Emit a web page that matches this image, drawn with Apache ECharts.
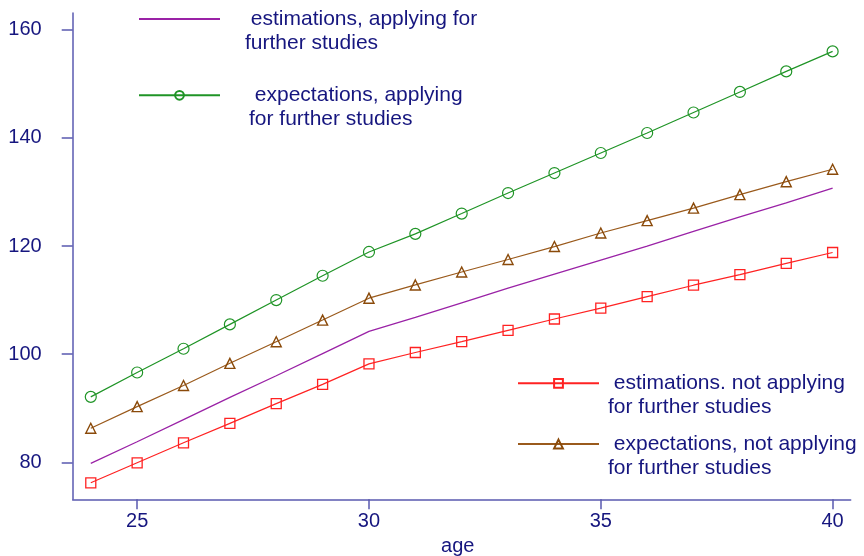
<!DOCTYPE html>
<html><head><meta charset="utf-8">
<script src="https://cdn.jsdelivr.net/npm/echarts@6/dist/echarts.min.js"></script>
<style>html,body{margin:0;padding:0;background:#fff}#c{width:864px;height:556px}</style>
</head><body><div id="c"></div>
<script>
const ages = [24, 25, 26, 27, 28, 29, 30, 31, 32, 33, 34, 35, 36, 37, 38, 39, 40];
const estApplying = [79.8, 83.8, 87.9, 92.0, 96.0, 100.1, 104.2, 106.8, 109.5, 112.2, 114.8, 117.4, 120.0, 122.7, 125.4, 128.0, 130.7];
const expApplying = [92.1, 96.6, 101.0, 105.5, 110.0, 114.5, 118.9, 122.25, 126.0, 129.8, 133.5, 137.2, 140.9, 144.7, 148.5, 152.3, 156.0];
const estNotApplying = [76.2, 79.9, 83.6, 87.2, 90.85, 94.4, 98.2, 100.3, 102.3, 104.4, 106.5, 108.5, 110.65, 112.75, 114.7, 116.8, 118.8];
const expNotApplying = [86.3, 90.3, 94.2, 98.3, 102.3, 106.3, 110.35, 112.8, 115.2, 117.5, 119.9, 122.4, 124.7, 127.0, 129.5, 131.9, 134.2];
const xTicks = [25, 30, 35, 40];
const yTicks = [80, 100, 120, 140, 160];
const seriesNames = [
  'estimations, applying for\nfurther studies',
  'expectations, applying\nfor further studies',
  'estimations. not applying\nfor further studies',
  'expectations, not applying\nfor further studies'
];
const xName = 'age';

const FONT = '"Liberation Sans", Arial, sans-serif';
const TXT = '#16167f';
const AX = '#5a5ab0';
const LH = 24;

const pairs = arr => ages.map((a, i) => [a, arr[i]]);

function legendAt(item, left, centerY, padLeft) {
  return {
    data: [item], left: left, top: centerY - 1.5 * LH, padding: 0, orient: 'vertical',
    itemWidth: 81, itemHeight: 11, selectedMode: false,
    formatter: n => '\n ' + n,
    textStyle: { color: TXT, fontSize: 21, fontFamily: FONT, lineHeight: LH, padding: [0, 0, 0, padLeft] }
  };
}

const chart = echarts.init(document.getElementById('c'), null, { renderer: 'canvas' });
chart.setOption({
  animation: false,
  backgroundColor: '#fff',
  grid: { left: 72.7, right: 13.3, top: 13, bottom: 56.7, containLabel: false, outerBoundsMode: 'none' },
  legend: [
    legendAt({ name: seriesNames[0], itemStyle: { opacity: 0 } }, 138, 19, 20),
    legendAt({ name: seriesNames[1] }, 138, 95.3, 24),
    legendAt({ name: seriesNames[2] }, 517, 383.3, 4),
    legendAt({ name: seriesNames[3] }, 517, 444, 4)
  ],
  xAxis: {
    type: 'value', min: 23.61, max: 40.39,
    name: xName, nameLocation: 'middle', nameGap: 31,
    nameTextStyle: { color: TXT, fontSize: 20, fontFamily: FONT, padding: [0, 8, 0, 0] },
    axisLine: { show: true, onZero: false, lineStyle: { color: AX, width: 1.5 } },
    axisTick: { show: true, length: 10, customValues: xTicks, lineStyle: { color: AX, width: 1.5 } },
    axisLabel: { customValues: xTicks, margin: 12, color: TXT, fontSize: 20, fontFamily: FONT },
    splitLine: { show: false }
  },
  yAxis: {
    type: 'value', min: 73.15, max: 163.1,
    axisLine: { show: true, onZero: false, lineStyle: { color: AX, width: 1.5 } },
    axisTick: { show: true, length: 11, customValues: yTicks, lineStyle: { color: AX, width: 1.5 } },
    axisLabel: { customValues: yTicks, margin: 31, color: TXT, fontSize: 20, fontFamily: FONT },
    splitLine: { show: false }
  },
  series: [
    {
      name: seriesNames[0], type: 'line', data: pairs(estApplying),
      symbol: 'none', lineStyle: { color: '#9a22a6', width: 1.3 }, itemStyle: { color: '#9a22a6' }
    },
    {
      name: seriesNames[1], type: 'line', data: pairs(expApplying),
      symbol: 'circle', symbolSize: 11, showAllSymbol: true,
      lineStyle: { color: '#1f9426', width: 1.2 },
      itemStyle: { color: 'rgba(0,0,0,0)', borderColor: '#1f9426', borderWidth: 1.2 }
    },
    {
      name: seriesNames[2], type: 'line', data: pairs(estNotApplying),
      symbol: 'rect', symbolSize: 10, showAllSymbol: true,
      lineStyle: { color: '#ff2222', width: 1.2 },
      itemStyle: { color: 'rgba(0,0,0,0)', borderColor: '#ff2222', borderWidth: 1.3 }
    },
    {
      name: seriesNames[3], type: 'line', data: pairs(expNotApplying),
      symbol: 'triangle', symbolSize: 10, showAllSymbol: true,
      lineStyle: { color: '#9a5a1c', width: 1.2 },
      itemStyle: { color: 'rgba(0,0,0,0)', borderColor: '#8a4a0a', borderWidth: 1.4 }
    }
  ]
});
</script></body></html>
